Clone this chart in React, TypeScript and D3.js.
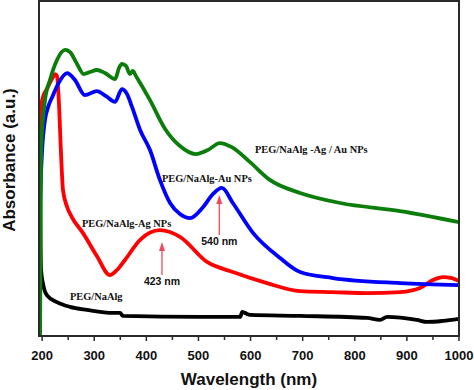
import React from "react";
import * as d3 from "d3";

// Wavelength (nm) / absorbance (a.u.)
const greenWl = [196, 198, 205.5, 215, 228.5, 244, 253.5, 265, 280, 292, 305, 320.5, 340, 347.5, 353, 361, 368.5, 374, 380, 407, 436, 464.5, 495, 518, 541, 564, 599, 637, 695, 772, 887, 1000];
const greenAbs = [0.0, 0.555, 0.704, 0.764, 0.824, 0.854, 0.848, 0.818, 0.782, 0.788, 0.794, 0.785, 0.767, 0.8, 0.812, 0.806, 0.782, 0.791, 0.776, 0.704, 0.618, 0.567, 0.543, 0.555, 0.576, 0.564, 0.519, 0.466, 0.427, 0.397, 0.373, 0.34];

const blueWl = [194, 196, 200, 205.5, 211, 221, 230.5, 248, 263, 282, 305, 322.5, 340, 353, 363, 372.5, 388, 407, 426, 445.5, 464.5, 484, 509, 528, 545, 566, 605, 656.5, 695, 758, 887, 1000];
const blueAbs = [0.272, 0.406, 0.555, 0.645, 0.681, 0.719, 0.752, 0.785, 0.764, 0.719, 0.731, 0.716, 0.699, 0.737, 0.722, 0.684, 0.615, 0.555, 0.466, 0.397, 0.364, 0.352, 0.385, 0.424, 0.442, 0.397, 0.307, 0.233, 0.191, 0.173, 0.158, 0.152];

const redWl = [194, 200, 211, 221, 225, 228.5, 232, 236, 240, 248, 257, 278.5, 305, 330, 343.5, 359, 388, 426, 464.5, 516.5, 566, 631.5, 695, 758, 823.5, 887, 925, 950, 969, 986.5, 1000];
const redAbs = [0.591, 0.704, 0.743, 0.773, 0.782, 0.776, 0.704, 0.555, 0.436, 0.385, 0.355, 0.307, 0.239, 0.182, 0.197, 0.227, 0.287, 0.316, 0.296, 0.221, 0.191, 0.158, 0.134, 0.131, 0.128, 0.131, 0.143, 0.167, 0.176, 0.173, 0.164];

const blackWl = [195, 196, 197, 198, 201.5, 209, 228.5, 253.5, 286, 336, 349.5, 355, 503, 580, 584, 589, 599, 695, 823.5, 848.5, 862, 919, 939, 969, 1000];
const blackAbs = [0.555, 0.406, 0.257, 0.197, 0.158, 0.122, 0.101, 0.087, 0.078, 0.069, 0.069, 0.06, 0.057, 0.057, 0.072, 0.069, 0.063, 0.06, 0.054, 0.048, 0.057, 0.048, 0.042, 0.045, 0.051];

const xTicks = [200, 300, 400, 500, 600, 700, 800, 900, 1000];
const xMinorTicks = [250, 350, 450, 550, 650, 750, 850, 950];

const seriesList = [
  { name: "PEG/NaAlg", wl: blackWl, abs: blackAbs, color: "#000000" },
  { name: "PEG/NaAlg-Ag NPs", wl: redWl, abs: redAbs, color: "#ff0000" },
  { name: "PEG/NaAlg-Au NPs", wl: blueWl, abs: blueAbs, color: "#0000ff" },
  { name: "PEG/NaAlg -Ag / Au NPs", wl: greenWl, abs: greenAbs, color: "#0b7d0b" },
];

const W = 474;
const H = 390;
const plot = { left: 39, right: 459, top: 1, bottom: 336 };

export default function App() {
  const x = d3.scaleLinear().domain([194, 1000]).range([plot.left, plot.right]);
  const y = d3.scaleLinear().domain([0, 1]).range([plot.bottom, plot.top]);
  const line = d3
    .line<[number, number]>()
    .x((d) => x(d[0]))
    .y((d) => y(d[1]))
    .curve(d3.curveMonotoneX);

  const serif = "'Liberation Serif', 'Times New Roman', serif";
  const sans = "'Liberation Sans', Arial, sans-serif";
  const arrowColor = "#ee4a5c";

  const arrow = (xc: number, yTip: number, yBase: number) => (
    <g>
      <line x1={xc} x2={xc} y1={yTip + 6} y2={yBase} stroke={arrowColor} strokeWidth={1.3} />
      <path d={`M${xc},${yTip} L${xc - 3},${yTip + 9} L${xc + 3},${yTip + 9} Z`} fill={arrowColor} />
    </g>
  );

  return (
    <svg width={W} height={H} style={{ position: "absolute", left: 0, top: 0, background: "#fff" }}>
      <defs>
        <clipPath id="clip">
          <rect x={plot.left} y={plot.top} width={plot.right - plot.left} height={plot.bottom - plot.top} />
        </clipPath>
      </defs>
      <rect x={0} y={0} width={W} height={H} fill="#fff" />
      <g clipPath="url(#clip)">
        {seriesList.map((s) => (
          <path
            key={s.name}
            d={line(s.wl.map((w, i) => [w, s.abs[i]] as [number, number])) || ""}
            fill="none"
            stroke={s.color}
            strokeWidth={3.8}
            strokeLinejoin="round"
            strokeLinecap="round"
          />
        ))}
      </g>
      {/* frame */}
      <rect
        x={plot.left}
        y={plot.top}
        width={plot.right - plot.left}
        height={plot.bottom - plot.top}
        fill="none"
        stroke="#2a2a2a"
        strokeWidth={2}
      />
      {/* ticks */}
      {xTicks.map((t) => (
        <g key={t}>
          <line x1={x(t)} x2={x(t)} y1={plot.bottom} y2={plot.bottom + 5} stroke="#2a2a2a" strokeWidth={1.5} />
          <text
            x={x(t)}
            y={360}
            textAnchor="middle"
            fontFamily={sans}
            fontWeight="bold"
            fontSize={13}
            fill="#111"
          >
            {t}
          </text>
        </g>
      ))}
      {xMinorTicks.map((t) => (
        <line key={t} x1={x(t)} x2={x(t)} y1={plot.bottom} y2={plot.bottom + 4} stroke="#2a2a2a" strokeWidth={1.5} />
      ))}
      <text x={249} y={385} textAnchor="middle" fontFamily={sans} fontWeight="bold" fontSize={17} fill="#111">
        Wavelength (nm)
      </text>
      <text
        transform="translate(15,160) rotate(-90)"
        textAnchor="middle"
        fontFamily={sans}
        fontWeight="bold"
        fontSize={17}
        fill="#111"
      >
        Absorbance (a.u.)
      </text>
      {/* annotations */}
      <text x={255} y={153} fontFamily={serif} fontWeight="bold" fontSize={10.4} fill="#111">
        PEG/NaAlg -Ag / Au NPs
      </text>
      <text x={162} y={182} fontFamily={serif} fontWeight="bold" fontSize={10.4} fill="#111">
        PEG/NaAlg-Au NPs
      </text>
      <text x={82} y={227} fontFamily={serif} fontWeight="bold" fontSize={10.4} fill="#111">
        PEG/NaAlg-Ag NPs
      </text>
      <text x={70} y={300} fontFamily={serif} fontWeight="bold" fontSize={10.4} fill="#111">
        PEG/NaAlg
      </text>
      {arrow(x(540), 195, 235)}
      {arrow(x(430), 242, 275)}
      <text x={x(540)} y={245} textAnchor="middle" fontFamily={sans} fontWeight="bold" fontSize={10.5} fill="#111">
        540 nm
      </text>
      <text x={x(430)} y={285} textAnchor="middle" fontFamily={sans} fontWeight="bold" fontSize={10.5} fill="#111">
        423 nm
      </text>
    </svg>
  );
}
